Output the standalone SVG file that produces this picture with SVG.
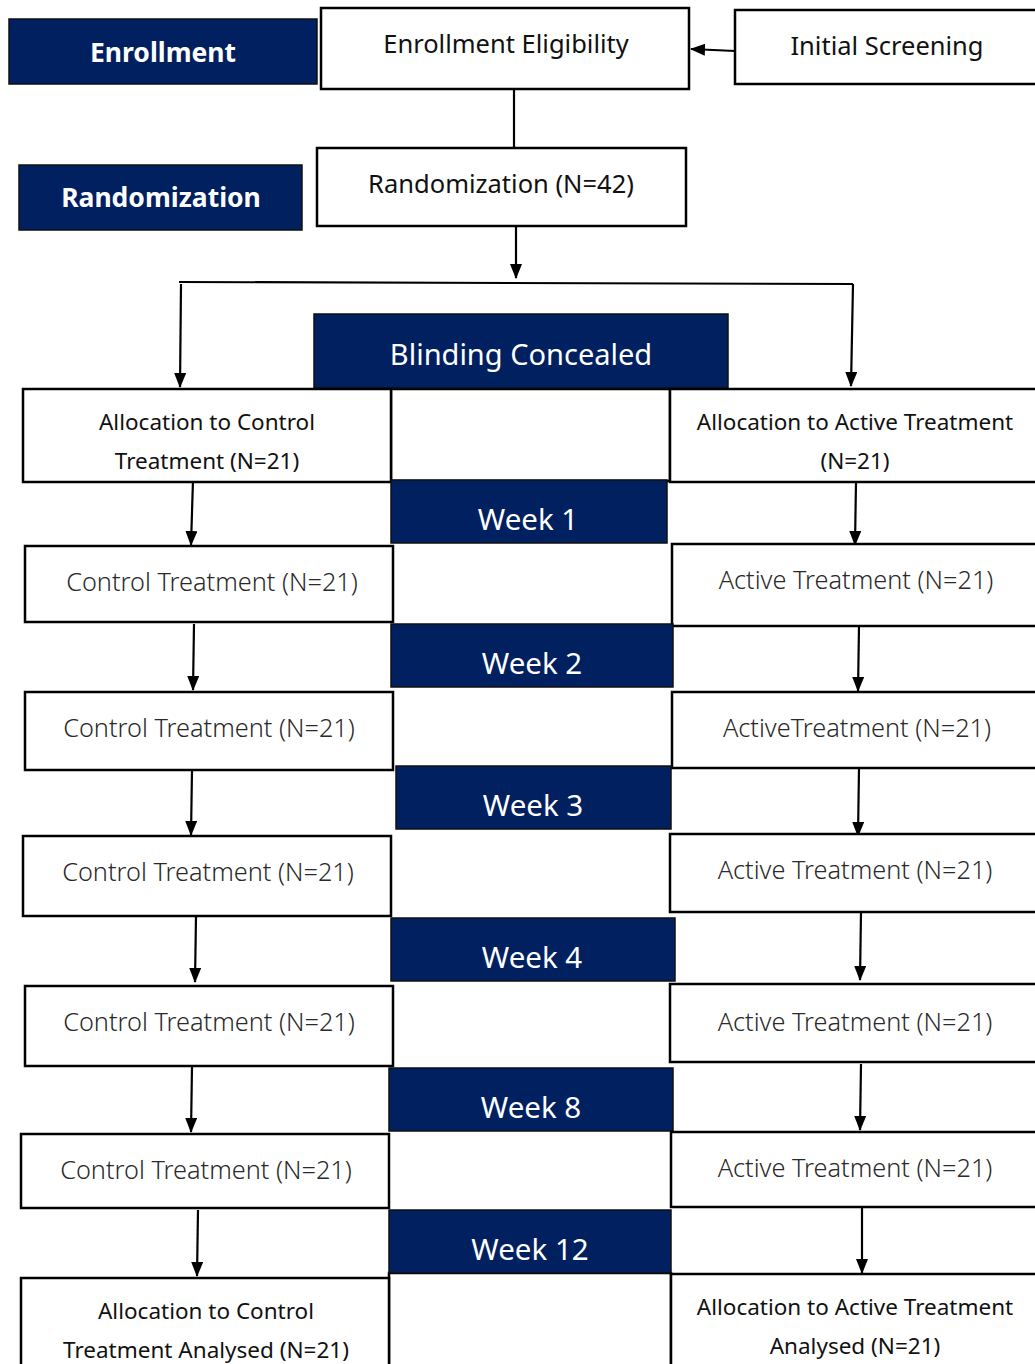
<svg xmlns="http://www.w3.org/2000/svg" width="1035" height="1364" viewBox="0 0 1035 1364">
<defs>
<marker id="ah" markerUnits="userSpaceOnUse" markerWidth="15" markerHeight="12" refX="14" refY="6" orient="auto">
<path d="M0,0 L15,6 L0,12 z" fill="#000"/>
</marker>
<style>
.box{fill:#fff;stroke:#000;stroke-width:2.5}
.navy{fill:#002060;stroke:#111;stroke-width:1.5}
.lbl{font-family:"Noto Sans","Open Sans",sans-serif;fill:#111;text-anchor:middle;dominant-baseline:central}
.tp{font-size:25.5px}
.tr{font-size:25.3px;fill:#2a2a2a;font-weight:300}
.al{font-size:22.5px}
.wk{font-family:"Noto Sans","Open Sans",sans-serif;fill:#fff;text-anchor:middle;dominant-baseline:central;font-size:29.5px}
.hd{font-family:"Noto Sans","Open Sans",sans-serif;fill:#fff;text-anchor:middle;dominant-baseline:central;font-size:26.5px;font-weight:bold}
.ln{stroke:#000;stroke-width:2.2;fill:none}
.ar{stroke:#000;stroke-width:2.2;fill:none;marker-end:url(#ah)}
</style>
</defs>
<rect width="1035" height="1364" fill="#fff"/>

<g id="connectors">
<path class="ar" d="M735,51 L691,49"/>
<path class="ln" d="M514,89 L514,148"/>
<path class="ar" d="M516,226 L516,278"/>
<path class="ln" d="M179,282 L853,284"/>
<path class="ar" d="M181,284 L180,387"/>
<path class="ar" d="M853,284 L851,386"/>
<path class="ar" d="M193,480 L191,545"/>
<path class="ar" d="M856,482 L855,545"/>
<path class="ar" d="M194,624 L193,690"/>
<path class="ar" d="M859,626 L858,691"/>
<path class="ar" d="M192,770 L191,835"/>
<path class="ar" d="M859,768 L858,836"/>
<path class="ar" d="M196,916 L195,982"/>
<path class="ar" d="M861,912 L860,980"/>
<path class="ar" d="M192,1066 L191,1132"/>
<path class="ar" d="M861,1064 L860,1130"/>
<path class="ar" d="M198,1210 L197,1276"/>
<path class="ar" d="M862,1208 L862,1273"/>
</g>

<g id="enrollment-label"><rect class="navy" x="9" y="19" width="308" height="65"/><text class="hd" x="163" y="52">Enrollment</text></g>
<g id="enrollment-eligibility"><rect class="box" x="321" y="8" width="368" height="81"/><text class="lbl tp" x="506" y="43">Enrollment Eligibility</text></g>
<g id="initial-screening"><rect class="box" x="735" y="10" width="310" height="74"/><text class="lbl tp" x="887" y="45">Initial Screening</text></g>
<g id="randomization-label"><rect class="navy" x="19" y="165" width="283" height="65"/><text class="hd" x="161" y="197">Randomization</text></g>
<g id="randomization"><rect class="box" x="317" y="148" width="369" height="78"/><text class="lbl tp" x="501" y="183">Randomization (N=42)</text></g>

<g id="middle-top"><rect class="box" x="391" y="389" width="279" height="92"/></g>
<g id="middle-bottom"><rect class="box" x="389" y="1273" width="282" height="100"/></g>

<g id="blinding"><rect class="navy" x="314" y="314" width="414" height="74"/><text class="wk" x="521" y="353" style="font-size:29px">Blinding Concealed</text></g>

<g id="alloc-control"><rect class="box" x="23" y="389" width="368" height="93"/><text class="lbl al" x="207" y="421">Allocation to Control</text><text class="lbl al" x="207" y="460">Treatment (N=21)</text></g>
<g id="alloc-active"><rect class="box" x="670" y="389" width="375" height="93"/><text class="lbl al" x="855" y="421">Allocation to Active Treatment</text><text class="lbl al" x="855" y="460">(N=21)</text></g>

<g id="week1"><rect class="navy" x="391" y="480" width="276" height="63"/><text class="wk" x="528" y="518">Week 1</text></g>
<g id="control-w1"><rect class="box" x="25" y="546" width="368" height="76"/><text class="lbl tr" x="212" y="581">Control Treatment (N=21)</text></g>
<g id="active-w1"><rect class="box" x="672" y="544" width="373" height="82"/><text class="lbl tr" x="856" y="579">Active Treatment (N=21)</text></g>

<g id="week2"><rect class="navy" x="391" y="624" width="282" height="63"/><text class="wk" x="532" y="662">Week 2</text></g>
<g id="control-w2"><rect class="box" x="25" y="692" width="368" height="78"/><text class="lbl tr" x="209" y="727">Control Treatment (N=21)</text></g>
<g id="active-w2"><rect class="box" x="672" y="692" width="373" height="76"/><text class="lbl tr" x="857" y="727">ActiveTreatment (N=21)</text></g>

<g id="week3"><rect class="navy" x="396" y="766" width="275" height="63"/><text class="wk" x="533" y="804">Week 3</text></g>
<g id="control-w3"><rect class="box" x="23" y="836" width="368" height="80"/><text class="lbl tr" x="208" y="871">Control Treatment (N=21)</text></g>
<g id="active-w3"><rect class="box" x="670" y="834" width="375" height="78"/><text class="lbl tr" x="855" y="869">Active Treatment (N=21)</text></g>

<g id="week4"><rect class="navy" x="391" y="918" width="284" height="63"/><text class="wk" x="532" y="956">Week 4</text></g>
<g id="control-w4"><rect class="box" x="25" y="986" width="368" height="80"/><text class="lbl tr" x="209" y="1021">Control Treatment (N=21)</text></g>
<g id="active-w4"><rect class="box" x="670" y="984" width="375" height="78"/><text class="lbl tr" x="855" y="1021">Active Treatment (N=21)</text></g>

<g id="week8"><rect class="navy" x="389" y="1068" width="284" height="63"/><text class="wk" x="531" y="1106">Week 8</text></g>
<g id="control-w8"><rect class="box" x="21" y="1134" width="368" height="74"/><text class="lbl tr" x="206" y="1169">Control Treatment (N=21)</text></g>
<g id="active-w8"><rect class="box" x="671" y="1132" width="374" height="75"/><text class="lbl tr" x="855" y="1167">Active Treatment (N=21)</text></g>

<g id="week12"><rect class="navy" x="389" y="1210" width="282" height="63"/><text class="wk" x="530" y="1248">Week 12</text></g>
<g id="control-analysed"><rect class="box" x="21" y="1278" width="368" height="95"/><text class="lbl al" x="206" y="1310">Allocation to Control</text><text class="lbl al" x="206" y="1349">Treatment Analysed (N=21)</text></g>
<g id="active-analysed"><rect class="box" x="671" y="1274" width="374" height="99"/><text class="lbl al" x="855" y="1306">Allocation to Active Treatment</text><text class="lbl al" x="855" y="1345">Analysed (N=21)</text></g>
</svg>
